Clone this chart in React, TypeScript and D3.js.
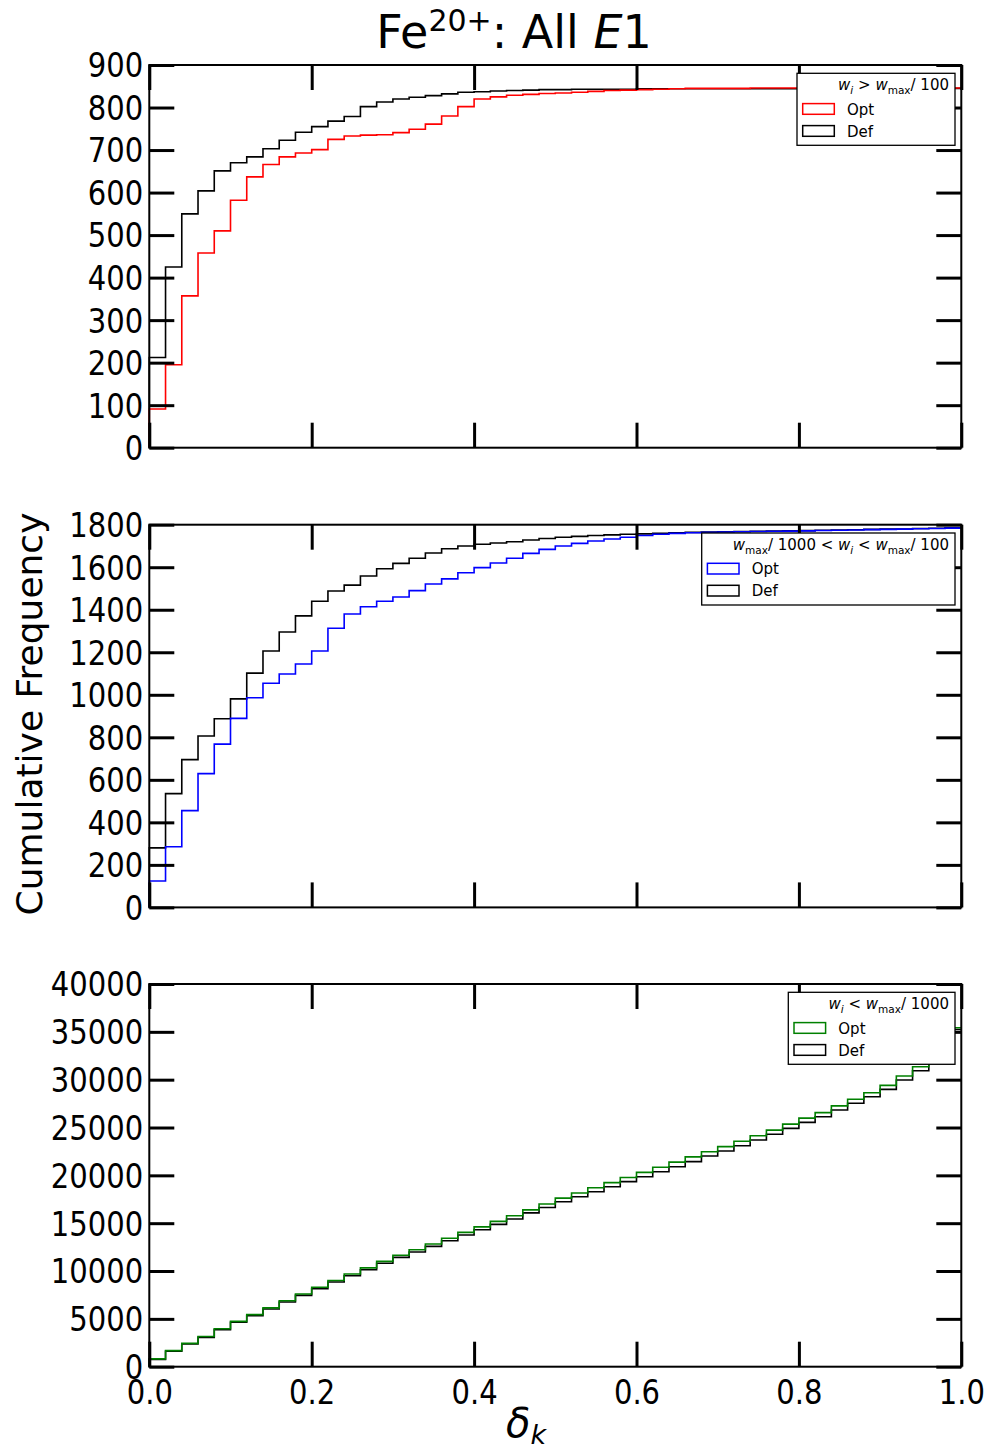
import React, { useEffect, useRef } from 'react';
import * as d3 from 'd3';

const FONT = 'DejaVu Sans';
const BIN_WIDTH = 0.02;
const X_TICKS = [0, 0.2, 0.4, 0.6, 0.8, 1.0];

// panel 1: w_i > w_max/100  (cumulative counts per 0.02 bin)
const P1_OPT = [
  91, 195, 357, 458, 510, 582, 637, 666, 684, 693,
  701, 725, 733, 735, 736, 741, 749, 761, 780, 802,
  820, 825, 829, 831, 833, 834, 836, 838, 840, 841,
  842, 843, 844, 845, 845, 845, 845, 846, 846, 846,
  846, 846, 846, 846, 846, 846, 846, 846, 846, 846,
];
const P1_DEF = [
  212, 425, 550, 604, 651, 670, 684, 703, 723, 742,
  755, 768, 779, 802, 813, 820, 824, 828, 832, 836,
  837, 839, 840, 841, 842, 842, 843, 843, 843, 843,
  844, 844, 844, 844, 844, 844, 844, 844, 844, 844,
  844, 845, 845, 845, 845, 845, 845, 845, 845, 845,
];
const P1_TICKS = [0, 100, 200, 300, 400, 500, 600, 700, 800, 900];

// panel 2: w_max/1000 < w_i < w_max/100
const P2_OPT = [
  124, 285, 455, 629, 768, 889, 986, 1054, 1098, 1145,
  1206, 1313, 1380, 1414, 1440, 1460, 1490, 1521, 1545, 1574,
  1598, 1620, 1642, 1665, 1684, 1700, 1712, 1723, 1733, 1741,
  1749, 1755, 1759, 1762, 1764, 1766, 1767, 1768, 1769, 1770,
  1771, 1773, 1774, 1775, 1777, 1778, 1779, 1781, 1782, 1784,
];
const P2_DEF = [
  280, 535, 695, 806, 887, 981, 1102, 1206, 1295, 1371,
  1440, 1488, 1516, 1559, 1593, 1618, 1642, 1667, 1687, 1700,
  1708, 1714, 1720, 1728, 1735, 1741, 1745, 1749, 1752, 1755,
  1757, 1760, 1762, 1764, 1766, 1767, 1768, 1769, 1770, 1771,
  1772, 1774, 1775, 1776, 1778, 1779, 1780, 1782, 1783, 1785,
];
const P2_TICKS = [0, 200, 400, 600, 800, 1000, 1200, 1400, 1600, 1800];

// panel 3: w_i < w_max/1000
const P3_OPT = [
  820, 1680, 2440, 3150, 3960, 4740, 5440, 6150, 6890, 7600,
  8300, 9010, 9690, 10330, 11010, 11650, 12220, 12830, 13430, 14040,
  14610, 15190, 15770, 16390, 17000, 17620, 18160, 18700, 19240, 19780,
  20310, 20840, 21380, 21930, 22470, 23000, 23560, 24140, 24730, 25350,
  25980, 26560, 27260, 27950, 28640, 29400, 30380, 31350, 33300, 35420,
];
const P3_DEF = [
  770, 1610, 2370, 3070, 3870, 4640, 5330, 6030, 6760, 7460,
  8150, 8850, 9510, 10140, 10810, 11430, 11990, 12580, 13170, 13760,
  14320, 14880, 15440, 16080, 16640, 17245, 17770, 18290, 18810, 19340,
  19860, 20380, 20900, 21430, 22020, 22544, 23100, 23694, 24290, 24915,
  25540, 26130, 26830, 27530, 28220, 28990, 29965, 30940, 33000, 35250,
];
const P3_TICKS = [0, 5000, 10000, 15000, 20000, 25000, 30000, 35000, 40000];

type Span = { t: string; i?: boolean; s?: boolean };

const LEG1: Span[] = [
  { t: 'w', i: true }, { t: 'i', i: true, s: true }, { t: ' > ' },
  { t: 'w', i: true }, { t: 'max', s: true }, { t: '/ 100' },
];
const LEG2: Span[] = [
  { t: 'w', i: true }, { t: 'max', s: true }, { t: '/ 1000 < ' },
  { t: 'w', i: true }, { t: 'i', i: true, s: true }, { t: ' < ' },
  { t: 'w', i: true }, { t: 'max', s: true }, { t: '/ 100' },
];
const LEG3: Span[] = [
  { t: 'w', i: true }, { t: 'i', i: true, s: true }, { t: ' < ' },
  { t: 'w', i: true }, { t: 'max', s: true }, { t: '/ 1000' },
];

const W = 994;
const H = 1452;
const X0 = 149.3;
const X1 = 961.3;
const PH = 382.7;

const PANELS = [
  { top: 65, ymax: 900, ticks: P1_TICKS, opt: P1_OPT, def: P1_DEF, color: '#ff0000', legLeft: 797, leg: LEG1, xlabels: false },
  { top: 524.7, ymax: 1800, ticks: P2_TICKS, opt: P2_OPT, def: P2_DEF, color: '#0000ff', legLeft: 701.7, leg: LEG2, xlabels: false },
  { top: 984, ymax: 40000, ticks: P3_TICKS, opt: P3_OPT, def: P3_DEF, color: '#008000', legLeft: 788.3, leg: LEG3, xlabels: true },
];

const App = () => {
  const svgRef = useRef<SVGSVGElement>(null);

  useEffect(() => {
    const svg = d3.select(svgRef.current);
    svg.selectAll('*').remove();

    const x = d3.scaleLinear().domain([0, 1]).range([X0, X1]);

    PANELS.forEach((p) => {
      const bottom = p.top + PH;
      const y = d3.scaleLinear().domain([0, p.ymax]).range([bottom, p.top]);
      const g = svg.append('g');

      // step outline of a cumulative histogram (the drop at x=1 sits under the spine)
      const stepPts = (vals: number[]) => {
        const pts: [number, number][] = [[0, 0]];
        vals.forEach((v, i) => pts.push([i * BIN_WIDTH, v]));
        pts.push([1, vals[vals.length - 1]]);
        return pts;
      };
      const line = d3.line<[number, number]>()
        .x((d) => x(d[0]))
        .y((d) => y(d[1]))
        .curve(d3.curveStepAfter);

      g.append('path').attr('d', line(stepPts(p.def)))
        .attr('fill', 'none').attr('stroke', '#000').attr('stroke-width', 1.6);
      g.append('path').attr('d', line(stepPts(p.opt)))
        .attr('fill', 'none').attr('stroke', p.color).attr('stroke-width', 1.6);

      // frame
      g.append('rect')
        .attr('x', X0).attr('y', p.top).attr('width', X1 - X0).attr('height', PH)
        .attr('fill', 'none').attr('stroke', '#000').attr('stroke-width', 2);

      const styleAxis = (a: d3.Selection<SVGGElement, unknown, null, undefined>) => {
        a.select('.domain').remove();
        a.selectAll('.tick line').attr('stroke-width', 3);
        a.attr('font-family', FONT).attr('font-size', 33);
        a.selectAll('.tick text').attr('transform', 'scale(0.88,1)');
      };

      const left = g.append('g').attr('transform', `translate(${X0},0)`)
        .call(d3.axisLeft(y).tickValues(p.ticks).tickSize(-25).tickPadding(7).tickFormat(d3.format('d')));
      styleAxis(left);
      left.selectAll('.tick text').attr('dy', '0.36em');

      const right = g.append('g').attr('transform', `translate(${X1},0)`)
        .call(d3.axisRight(y).tickValues(p.ticks).tickSize(-25).tickFormat(() => ''));
      styleAxis(right);

      const topAx = g.append('g').attr('transform', `translate(0,${p.top})`)
        .call(d3.axisTop(x).tickValues(X_TICKS).tickSize(-25).tickFormat(() => ''));
      styleAxis(topAx);

      const botAx = g.append('g').attr('transform', `translate(0,${bottom})`)
        .call(d3.axisBottom(x).tickValues(X_TICKS).tickSize(-25).tickPadding(14)
          .tickFormat((d) => (p.xlabels ? d3.format('.1f')(d as number) : '')));
      styleAxis(botAx);
      botAx.selectAll('.tick text').attr('dy', '0.71em');

      // legend
      const lg = g.append('g');
      lg.append('rect')
        .attr('x', p.legLeft).attr('y', p.top + 8.3)
        .attr('width', 955 - p.legLeft).attr('height', 72)
        .attr('fill', '#fff').attr('stroke', '#000').attr('stroke-width', 1.3);

      const title = lg.append('text')
        .attr('x', 949).attr('y', p.top + 25.3)
        .attr('text-anchor', 'end')
        .attr('font-family', FONT).attr('font-size', 15);
      let shifted = false;
      p.leg.forEach((s) => {
        const ts = title.append('tspan').text(s.t);
        if (s.i) ts.attr('font-style', 'italic');
        if (s.s) {
          ts.attr('font-size', 10.5);
          if (!shifted) { ts.attr('dy', 3.5); shifted = true; }
        } else if (shifted) {
          ts.attr('dy', -3.5);
          shifted = false;
        }
      });

      [{ label: 'Opt', c: p.color, dy: 0 }, { label: 'Def', c: '#000', dy: 22 }].forEach((e) => {
        lg.append('rect')
          .attr('x', p.legLeft + 5.7).attr('y', p.top + 38.6 + e.dy)
          .attr('width', 31.6).attr('height', 10.7)
          .attr('fill', 'none').attr('stroke', e.c).attr('stroke-width', 1.5);
        lg.append('text')
          .attr('x', p.legLeft + 50).attr('y', p.top + 49.5 + e.dy)
          .attr('font-family', FONT).attr('font-size', 15)
          .text(e.label);
      });
    });

    // title
    const t = svg.append('text')
      .attr('x', 514).attr('y', 48)
      .attr('text-anchor', 'middle')
      .attr('font-family', FONT).attr('font-size', 46);
    t.append('tspan').text('Fe');
    t.append('tspan').attr('font-size', 30).attr('dy', -17).text('20+');
    t.append('tspan').attr('dy', 17).text(': All ');
    t.append('tspan').attr('font-style', 'italic').text('E');
    t.append('tspan').text('1');

    // y label
    svg.append('text')
      .attr('transform', 'translate(42,714) rotate(-90)')
      .attr('text-anchor', 'middle')
      .attr('font-family', FONT).attr('font-size', 36)
      .text('Cumulative Frequency');

    // x label
    const xl = svg.append('text')
      .attr('x', 526).attr('y', 1437)
      .attr('text-anchor', 'middle')
      .attr('font-family', FONT).attr('font-size', 40);
    xl.append('tspan').attr('font-style', 'italic').text('δ');
    xl.append('tspan').attr('font-style', 'italic').attr('font-size', 27).attr('dy', 7).text('k');
  }, []);

  return (
    <svg
      ref={svgRef}
      width={W}
      height={H}
      style={{ position: 'absolute', left: 0, top: 0, background: '#fff' }}
    />
  );
};

export default App;
